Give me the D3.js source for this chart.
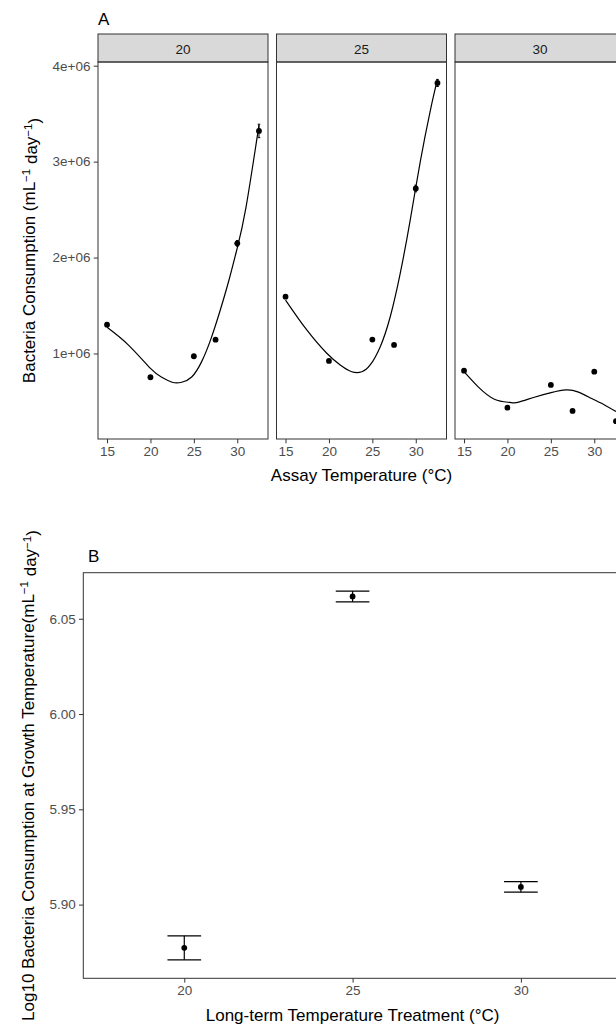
<!DOCTYPE html>
<html>
<head>
<meta charset="utf-8">
<script src="https://cdn.jsdelivr.net/npm/d3@7"></script>
<style>
  body { margin: 0; background: #fff; }
  svg { display: block; font-family: "Liberation Sans", Arial, sans-serif; }
</style>
</head>
<body>
<svg id="chart" width="616" height="1026"></svg>
<script>
// ---- panel A data ----
var assayTemps = [15, 20, 25, 27.5, 30, 32.5];
var facetLabels = ["20", "25", "30"];
var consumption20 = [1.30e6, 0.752e6, 0.971e6, 1.144e6, 2.148e6, 3.32e6];
var consumption25 = [1.592e6, 0.922e6, 1.145e6, 1.089e6, 2.72e6, 3.82e6];
var consumption30 = [0.821e6, 0.435e6, 0.672e6, 0.401e6, 0.81e6, 0.294e6];
var se20 = [0.015e6, 0.012e6, 0.012e6, 0.012e6, 0.03e6, 0.07e6];
var se25 = [0.015e6, 0.012e6, 0.012e6, 0.012e6, 0.035e6, 0.037e6];
var se30 = [0.01e6, 0.01e6, 0.01e6, 0.01e6, 0.01e6, 0.007e6];

// smooth fit lines as drawn in the figure
var curveTemps20 = [15, 17.5, 20, 21.3, 22.5, 23.6, 24.75, 25.9, 27, 28, 29, 30, 31, 32.5];
var curveValues20 = [1.273e6, 1.085e6, 0.845e6, 0.752e6, 0.70e6, 0.70e6, 0.755e6, 0.915e6, 1.16e6, 1.44e6, 1.75e6, 2.10e6, 2.52e6, 3.38e6];
var curveTemps25 = [15, 17.45, 19.75, 21.3, 22.63, 23.79, 24.75, 25.91, 27.06, 28.21, 29.36, 30.52, 31.67, 32.5];
var curveValues25 = [1.557e6, 1.245e6, 1.002e6, 0.88e6, 0.81e6, 0.81e6, 0.88e6, 1.071e6, 1.383e6, 1.835e6, 2.391e6, 3.0e6, 3.53e6, 3.86e6];
var curveTemps30 = [15, 16.6, 18.5, 20.24, 21.2, 23.1, 25.03, 26.76, 28.1, 29.65, 31.18, 32.5];
var curveValues30 = [0.81e6, 0.654e6, 0.523e6, 0.49e6, 0.49e6, 0.544e6, 0.592e6, 0.62e6, 0.60e6, 0.533e6, 0.463e6, 0.395e6];

var xTicksA = [15, 20, 25, 30];
var yTicksA = [1e6, 2e6, 3e6, 4e6];
var yTickLabelsA = ["1e+06", "2e+06", "3e+06", "4e+06"];

// ---- panel B data ----
var treatments = ["20", "25", "30"];
var logConsumption = [5.8773, 6.0617, 5.9093];
var logSe = [0.0063, 0.0028, 0.0028];
var yTicksB = [5.90, 5.95, 6.00, 6.05];

var svg = d3.select("#chart");
var tickCol = "#4D4D4D", lineCol = "#333333";

function expand(ext, f) {
  var r = ext[1] - ext[0];
  return [ext[0] - r * f, ext[1] + r * f];
}

// ================= panel A =================
var facets = [
  {label: facetLabels[0], y: consumption20, se: se20, cx: curveTemps20, cy: curveValues20},
  {label: facetLabels[1], y: consumption25, se: se25, cx: curveTemps25, cy: curveValues25},
  {label: facetLabels[2], y: consumption30, se: se30, cx: curveTemps30, cy: curveValues30}
];

var aLeft = 98, panelW = 170, gapW = 8.5, stripTop = 34, stripH = 28, aBottom = 439;
var aTop = stripTop + stripH;
var errW = 0.3;

var allY = [];
facets.forEach(function(f) {
  f.y.forEach(function(v, i) { allY.push(v - f.se[i], v + f.se[i]); });
  f.cy.forEach(function(v) { allY.push(v); });
});
var yA = d3.scaleLinear().domain(expand(d3.extent(allY), 0.05)).range([aBottom, aTop]);
var xDomA = expand([d3.min(assayTemps) - errW / 2, d3.max(assayTemps) + errW / 2], 0.05);

facets.forEach(function(f, k) {
  var left = aLeft + k * (panelW + gapW);
  var x = d3.scaleLinear().domain(xDomA).range([left, left + panelW]);
  var g = svg.append("g");

  // strip
  g.append("rect")
    .attr("x", left).attr("y", stripTop)
    .attr("width", panelW).attr("height", stripH)
    .attr("fill", "#D9D9D9").attr("stroke", lineCol).attr("stroke-width", 1);
  g.append("text")
    .attr("x", left + panelW / 2).attr("y", stripTop + 20)
    .attr("text-anchor", "middle")
    .attr("font-size", "13.5px").attr("fill", "#1A1A1A")
    .text(f.label);

  // x axis
  var xAxis = d3.axisBottom(x).tickValues(xTicksA).tickSize(4.3).tickPadding(3.2);
  var ax = g.append("g").attr("transform", "translate(0," + aBottom + ")").call(xAxis);
  ax.select(".domain").remove();
  ax.selectAll("line").attr("stroke", lineCol);
  ax.selectAll("text").attr("fill", tickCol).attr("font-size", "13.5px").attr("font-family", null);

  if (k === 0) {
    var yAxis = d3.axisLeft(yA).tickValues(yTicksA).tickSize(4.3).tickPadding(3.2)
      .tickFormat(function(d, i) { return yTickLabelsA[i]; });
    var ay = g.append("g").attr("transform", "translate(" + left + ",0)").call(yAxis);
    ay.select(".domain").remove();
    ay.selectAll("line").attr("stroke", lineCol);
    ay.selectAll("text").attr("fill", tickCol).attr("font-size", "13.5px").attr("font-family", null);
  }

  // fit line
  var line = d3.line()
    .x(function(d) { return x(d[0]); })
    .y(function(d) { return yA(d[1]); })
    .curve(d3.curveNatural);
  g.append("path")
    .datum(d3.zip(f.cx, f.cy))
    .attr("d", line)
    .attr("fill", "none").attr("stroke", "#000").attr("stroke-width", 1.2);

  // error bars
  var eb = g.selectAll(".eb").data(d3.range(assayTemps.length)).enter().append("g");
  eb.append("line")
    .attr("x1", function(i) { return x(assayTemps[i]); })
    .attr("x2", function(i) { return x(assayTemps[i]); })
    .attr("y1", function(i) { return yA(f.y[i] - f.se[i]); })
    .attr("y2", function(i) { return yA(f.y[i] + f.se[i]); })
    .attr("stroke", "#000").attr("stroke-width", 1);
  [-1, 1].forEach(function(s) {
    eb.append("line")
      .attr("x1", function(i) { return x(assayTemps[i] - errW / 2); })
      .attr("x2", function(i) { return x(assayTemps[i] + errW / 2); })
      .attr("y1", function(i) { return yA(f.y[i] + s * f.se[i]); })
      .attr("y2", function(i) { return yA(f.y[i] + s * f.se[i]); })
      .attr("stroke", "#000").attr("stroke-width", 1);
  });

  // points
  g.selectAll("circle").data(f.y).enter().append("circle")
    .attr("cx", function(d, i) { return x(assayTemps[i]); })
    .attr("cy", function(d) { return yA(d); })
    .attr("r", 2.9).attr("fill", "#000");

  // panel border
  g.append("rect")
    .attr("x", left).attr("y", aTop)
    .attr("width", panelW).attr("height", aBottom - aTop)
    .attr("fill", "none").attr("stroke", lineCol).attr("stroke-width", 1);
});

svg.append("text").attr("x", 98).attr("y", 25)
  .attr("font-size", "17px").attr("fill", "#000").text("A");

svg.append("text")
  .attr("x", aLeft + (3 * panelW + 2 * gapW) / 2).attr("y", 481)
  .attr("text-anchor", "middle").attr("font-size", "17px").attr("fill", "#000")
  .text("Assay Temperature (°C)");

function titleWithUnits(sel, main) {
  sel.append("tspan").text(main + "(mL");
  sel.append("tspan").attr("dy", "-0.45em").attr("font-size", "11.5px").text("\u22121");
  sel.append("tspan").attr("dy", "0.45em").text(" day");
  sel.append("tspan").attr("dy", "-0.45em").attr("font-size", "11.5px").text("\u22121");
  sel.append("tspan").attr("dy", "0.45em").text(")");
}

var yTitleA = svg.append("text")
  .attr("transform", "translate(35," + ((aTop + aBottom) / 2) + ") rotate(-90)")
  .attr("text-anchor", "middle").attr("font-size", "17px").attr("fill", "#000");
titleWithUnits(yTitleA, "Bacteria Consumption ");

// ================= panel B =================
var bLeft = 83.3, bTop = 572.7, bBottom = 978.3;
var bandStep = 168.3;
var xB = d3.scalePoint().domain(treatments).range([bLeft + 0.6 * bandStep, bLeft + 2.6 * bandStep]);
var bRight = bLeft + 3.2 * bandStep;

var allB = [];
logConsumption.forEach(function(v, i) { allB.push(v - logSe[i], v + logSe[i]); });
var yB = d3.scaleLinear().domain(expand(d3.extent(allB), 0.05)).range([bBottom, bTop]);

var gb = svg.append("g");
var bxAxis = d3.axisBottom(xB).tickSize(4.3).tickPadding(3.2);
var bax = gb.append("g").attr("transform", "translate(0," + bBottom + ")").call(bxAxis);
bax.select(".domain").remove();
bax.selectAll("line").attr("stroke", lineCol);
bax.selectAll("text").attr("fill", tickCol).attr("font-size", "13.5px").attr("font-family", null);

var byAxis = d3.axisLeft(yB).tickValues(yTicksB).tickSize(4.3).tickPadding(3.2).tickFormat(d3.format(".2f"));
var bay = gb.append("g").attr("transform", "translate(" + bLeft + ",0)").call(byAxis);
bay.select(".domain").remove();
bay.selectAll("line").attr("stroke", lineCol);
bay.selectAll("text").attr("fill", tickCol).attr("font-size", "13.5px").attr("font-family", null);

var capW = 0.2 * bandStep;
var ebB = gb.selectAll(".ebB").data(treatments).enter().append("g");
ebB.append("line")
  .attr("x1", function(d) { return xB(d); }).attr("x2", function(d) { return xB(d); })
  .attr("y1", function(d, i) { return yB(logConsumption[i] - logSe[i]); })
  .attr("y2", function(d, i) { return yB(logConsumption[i] + logSe[i]); })
  .attr("stroke", "#000").attr("stroke-width", 1.2);
[-1, 1].forEach(function(s) {
  ebB.append("line")
    .attr("x1", function(d) { return xB(d) - capW / 2; })
    .attr("x2", function(d) { return xB(d) + capW / 2; })
    .attr("y1", function(d, i) { return yB(logConsumption[i] + s * logSe[i]); })
    .attr("y2", function(d, i) { return yB(logConsumption[i] + s * logSe[i]); })
    .attr("stroke", "#000").attr("stroke-width", 1.2);
});
gb.selectAll("circle").data(logConsumption).enter().append("circle")
  .attr("cx", function(d, i) { return xB(treatments[i]); })
  .attr("cy", function(d) { return yB(d); })
  .attr("r", 2.9).attr("fill", "#000");

gb.append("rect")
  .attr("x", bLeft).attr("y", bTop)
  .attr("width", bRight - bLeft).attr("height", bBottom - bTop)
  .attr("fill", "none").attr("stroke", lineCol).attr("stroke-width", 1);

svg.append("text").attr("x", 88).attr("y", 561.5)
  .attr("font-size", "17px").attr("fill", "#000").text("B");

svg.append("text")
  .attr("x", (bLeft + bRight) / 2).attr("y", 1020.5)
  .attr("text-anchor", "middle").attr("font-size", "17px").attr("fill", "#000")
  .text("Long-term Temperature Treatment (°C)");

var yTitleB = svg.append("text")
  .attr("transform", "translate(33.5," + ((bTop + bBottom) / 2) + ") rotate(-90)")
  .attr("text-anchor", "middle").attr("font-size", "17px").attr("fill", "#000");
titleWithUnits(yTitleB, "Log10 Bacteria Consumption at Growth Temperature");
</script>
</body>
</html>
